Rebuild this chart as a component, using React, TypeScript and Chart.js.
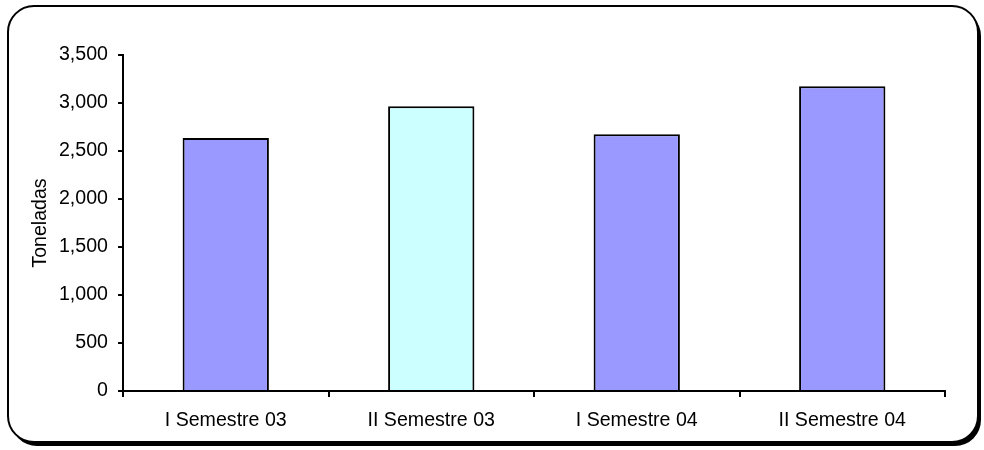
import React, { useEffect, useRef } from "react";
import { Chart, registerables } from "chart.js";

Chart.register(...registerables);

const categories = ["I Semestre 03", "II Semestre 03", "I Semestre 04", "II Semestre 04"];
const toneladas = [2635, 2965, 2675, 3175];
const barColors = ["#9999FF", "#CCFFFF", "#9999FF", "#9999FF"];
const yTitle = "Toneladas";
const yMin = 0;
const yMax = 3500;
const yStep = 500;

const FONT = "'Liberation Sans', Arial, sans-serif";
const FSIZE = 19.6;

function roundRect(ctx: CanvasRenderingContext2D, x: number, y: number, w: number, h: number, r: number) {
  ctx.beginPath();
  ctx.moveTo(x + r, y);
  ctx.lineTo(x + w - r, y);
  ctx.arcTo(x + w, y, x + w, y + r, r);
  ctx.lineTo(x + w, y + h - r);
  ctx.arcTo(x + w, y + h, x + w - r, y + h, r);
  ctx.lineTo(x + r, y + h);
  ctx.arcTo(x, y + h, x, y + h - r, r);
  ctx.lineTo(x, y + r);
  ctx.arcTo(x, y, x + r, y, r);
  ctx.closePath();
}

const framePlugin = {
  id: "frame",
  beforeDraw(chart: any) {
    const ctx = chart.ctx as CanvasRenderingContext2D;
    ctx.save();
    ctx.fillStyle = "#ffffff";
    ctx.fillRect(0, 0, chart.width, chart.height);
    // shadow
    roundRect(ctx, 11, 10, 970, 436, 26);
    ctx.fillStyle = "#000000";
    ctx.fill();
    roundRect(ctx, 8, 6, 970, 436, 26);
    ctx.fillStyle = "#ffffff";
    ctx.fill();
    ctx.lineWidth = 2;
    ctx.strokeStyle = "#000000";
    ctx.stroke();
    ctx.restore();
  },
};

export default function App() {
  const ref = useRef<HTMLCanvasElement>(null);
  useEffect(() => {
    if (!ref.current) return;
    const chart = new Chart(ref.current, {
      type: "bar",
      data: {
        labels: categories,
        datasets: [
          {
            data: toneladas,
            backgroundColor: barColors,
            borderColor: "#000000",
            borderWidth: 2,
            barPercentage: 0.42,
            categoryPercentage: 1,
          },
        ],
      },
      options: {
        animation: false,
        responsive: true,
        maintainAspectRatio: false,
        locale: "en-US",
        layout: { padding: { left: 0, right: 39, top: 55, bottom: 0 } },
        plugins: {
          legend: { display: false },
          tooltip: { enabled: false },
        },
        scales: {
          x: {
            grid: {
              display: true,
              drawOnChartArea: false,
              drawTicks: true,
              tickLength: 6,
              color: "#000000",
              lineWidth: 2,
              offset: true,
            },
            border: { display: true, color: "#000000", width: 2 },
            ticks: { color: "#000000", font: { family: FONT, size: FSIZE }, padding: 12, maxRotation: 0 },
            afterFit: (s: any) => {
              s.height = 59;
            },
          },
          y: {
            min: yMin,
            max: yMax,
            ticks: {
              stepSize: yStep,
              color: "#000000",
              font: { family: FONT, size: FSIZE },
              padding: 10,
              callback: (v: any) => Number(v).toLocaleString("en-US"),
            },
            grid: {
              display: true,
              drawOnChartArea: false,
              drawTicks: true,
              tickLength: 5,
              color: "#000000",
              lineWidth: 2,
            },
            border: { display: true, color: "#000000", width: 2 },
            title: {
              display: true,
              text: yTitle,
              color: "#000000",
              font: { family: FONT, size: FSIZE },
              padding: { top: 29, bottom: 0 },
            },
            afterFit: (s: any) => {
              s.width = 123;
            },
          },
        },
      },
      plugins: [framePlugin],
    });
    return () => chart.destroy();
  }, []);
  return (
    <div style={{ position: "absolute", left: 0, top: 0, width: 984, height: 450 }}>
      <canvas ref={ref} />
    </div>
  );
}
